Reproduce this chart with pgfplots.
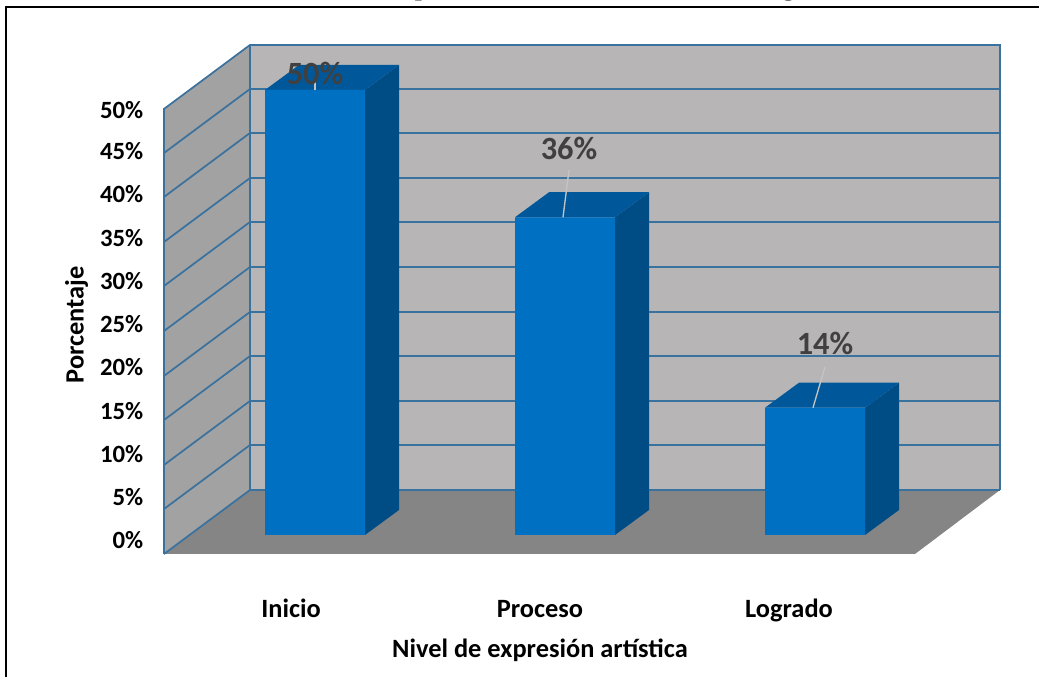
\documentclass[border=0pt]{standalone}
\usepackage{fontspec}
\setmainfont{Carlito}
\newfontfamily\titlefont{Liberation Serif}
\usepackage{pgfplots}
\pgfplotsset{compat=1.18}
\definecolor{wallback}{HTML}{B7B5B5}
\definecolor{wallleft}{HTML}{A3A2A2}
\definecolor{floorc}{HTML}{858585}
\definecolor{gridc}{HTML}{3A729F}
\definecolor{barfront}{HTML}{0070C2}
\definecolor{bartop}{HTML}{00589B}
\definecolor{barside}{HTML}{004C85}
\definecolor{valc}{HTML}{404040}
\definecolor{leader}{HTML}{C4C4C4}
\begin{document}
% 1 px of the reference = 0.75pt; x data is in px, y data is the percentage
\begin{tikzpicture}
\useasboundingbox (0,0) rectangle (779.25pt,507.75pt);
\begin{axis}[
  at={(123pt,92.25pt)}, anchor=south west,
  scale only axis, width=627pt, height=381.75pt,
  xmin=164, xmax=1000, ymin=-2.135, ymax=55.056,
  clip=false,
  axis line style={draw=none},
  major tick length=0pt,
  xtick={291,540,789},
  xticklabels={Inicio,Proceso,Logrado},
  ytick={-0.56,4.27,9.10,13.93,18.88,23.71,28.54,33.37,38.31,43.15,47.75},
  yticklabels={0\%,5\%,10\%,15\%,20\%,25\%,30\%,35\%,40\%,45\%,50\%},
  yticklabel style={font=\fontsize{18.6}{20}\selectfont\bfseries,xshift=-12pt},
  xticklabel style={font=\fontsize{19.8}{22}\selectfont\bfseries,yshift=-30pt,text height=14pt,text depth=4pt},
  xlabel={Nivel de expresión artística},
  ylabel={Porcentaje},
  label style={font=\fontsize{19.8}{22}\selectfont\bfseries},
  xlabel style={at={(rel axis cs:0.4498,-0.1887)},anchor=center},
  ylabel style={at={(rel axis cs:-0.1045,0.4499)},anchor=center},
  gridl/.style={draw=gridc,line width=1.3pt,no marks},
  face/.style={no marks,draw=none,fill=#1},
]
% outer frame, open at the right and at the bottom
\addplot[black,line width=1.6pt,no marks] coordinates {(6,-15.96) (6,59.33) (1039,59.33)};
% floor and walls
\addplot[face=floorc] coordinates {(164,-2.135) (915,-2.135) (1000,5.056) (250,5.056)} -- cycle;
\addplot[face=wallleft] coordinates {(164,-2.135) (164,47.87) (250,55.056) (250,5.056)} -- cycle;
\addplot[face=wallback] coordinates {(250,5.056) (250,55.056) (1000,55.056) (1000,5.056)} -- cycle;
% gridlines across left wall and back wall
\addplot[gridl] coordinates {(164,2.92) (250,10.11) (1000,10.11)};
\addplot[gridl] coordinates {(164,7.87) (250,15.06) (1000,15.06)};
\addplot[gridl] coordinates {(164,12.92) (250,20.11) (1000,20.11)};
\addplot[gridl] coordinates {(164,17.87) (250,25.06) (1000,25.06)};
\addplot[gridl] coordinates {(164,22.92) (250,30.11) (1000,30.11)};
\addplot[gridl] coordinates {(164,27.98) (250,35.17) (1000,35.17)};
\addplot[gridl] coordinates {(164,32.92) (250,40.11) (1000,40.11)};
\addplot[gridl] coordinates {(164,37.98) (250,45.17) (1000,45.17)};
\addplot[gridl] coordinates {(164,42.92) (250,50.11) (1000,50.11)};
% wall outline
\addplot[gridl] coordinates {(164,-2.135) (164,47.87) (250,55.056) (1000,55.056) (1000,5.056)};
\addplot[gridl] coordinates {(164,-2.135) (250,5.056) (250,55.056)};
\addplot[gridl,line width=1pt] coordinates {(250,5.056) (1000,5.056)};
% side and top faces of the bars, depth 34 px and 2.81 in y
\addplot[face=barside] coordinates {(365,0) (399,2.81) (399,52.81) (365,50)} -- cycle;
\addplot[face=bartop] coordinates {(265,50) (365,50) (399,52.81) (299,52.81)} -- cycle;
\addplot[face=barside] coordinates {(615,0) (649,2.81) (649,38.51) (615,35.7)} -- cycle;
\addplot[face=bartop] coordinates {(515,35.7) (615,35.7) (649,38.51) (549,38.51)} -- cycle;
\addplot[face=barside] coordinates {(865,0) (899,2.81) (899,17.11) (865,14.3)} -- cycle;
\addplot[face=bartop] coordinates {(765,14.3) (865,14.3) (899,17.11) (799,17.11)} -- cycle;
% front faces
\addplot[ybar,bar width=100,draw=none,fill=barfront] coordinates {(315,50) (565,35.7) (815,14.3)};
% leaders
\addplot[leader,line width=1pt,no marks] coordinates {(315,50) (315,51.2)};
\addplot[leader,line width=1pt,no marks] coordinates {(563,35.7) (569,41)};
\addplot[leader,line width=1pt,no marks] coordinates {(813,14.3) (825,18.9)};
% value labels
\node[text=valc,font=\fontsize{24.3}{26}\selectfont\bfseries] at (axis cs:315,51.8) {50\%};
\node[text=valc,font=\fontsize{24.3}{26}\selectfont\bfseries] at (axis cs:569,43.4) {36\%};
\node[text=valc,font=\fontsize{24.3}{26}\selectfont\bfseries] at (axis cs:825,21.5) {14\%};
% title, cut by the top edge of the page
\node[overlay,anchor=base,font=\titlefont\fontsize{19}{21}\selectfont\bfseries] at (axis cs:560,60.6) {Nivel de expresión artística en los alumnos según};
\end{axis}
\end{tikzpicture}
\end{document}
